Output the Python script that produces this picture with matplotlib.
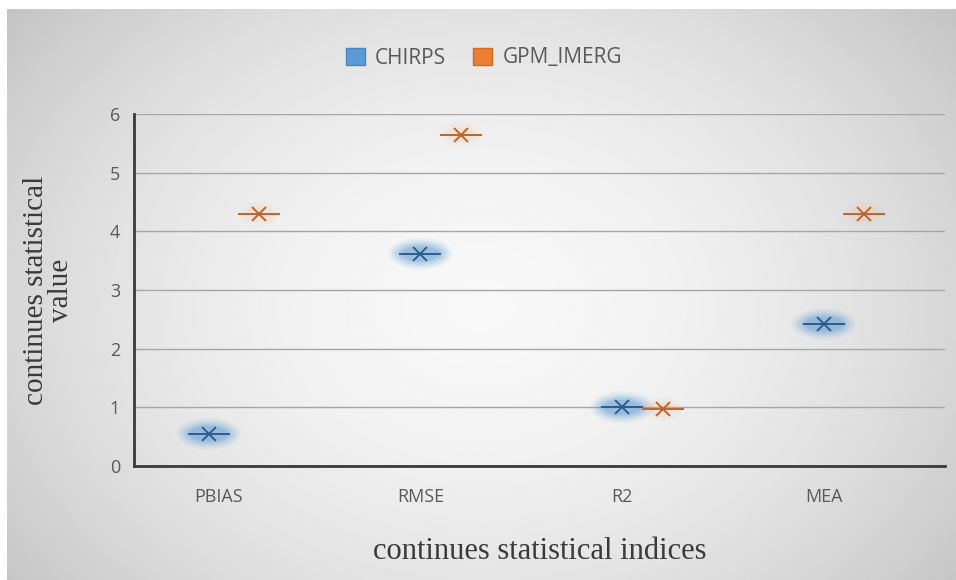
import numpy as np
import matplotlib.pyplot as plt
from matplotlib.patches import Patch, Ellipse

categories = ["PBIAS", "RMSE", "R2", "MEA"]
chirps = [0.55, 3.62, 1.0, 2.42]
gpm_imerg = [4.3, 5.65, 0.97, 4.3]
y_ticks = [0, 1, 2, 3, 4, 5, 6]

fig = plt.figure(figsize=(9.56, 5.8), dpi=100)
fig.patch.set_facecolor("white")

# soft grey radial background behind the whole chart area
bg = fig.add_axes([7 / 956, 0, 949 / 956, 571 / 580], zorder=-5)
yy, xx = np.mgrid[0:1:300j, 0:1:500j]
r = np.sqrt(((xx - 0.5) / 0.62) ** 2 + ((yy - 0.52) / 0.8) ** 2)
shade = 0.97 - 0.19 * np.clip(r, 0, 1.2) ** 1.8
bg.imshow(shade, cmap="gray", vmin=0, vmax=1, aspect="auto",
          extent=[0, 1, 0, 1], interpolation="bilinear")
bg.axis("off")

ax = fig.add_axes([134 / 956, 1 - 466 / 580, 811 / 956, 352 / 580])
ax.patch.set_alpha(0)

# px -> data units along each axis
px_x = 1 / 201.5
px_y = 1 / 58.7

x = np.arange(len(categories))
xc = x - np.array([0.05, 0, 0, 0])
xg = x + 0.2

# blurred halo under the CHIRPS markers
for w, h, a in [(64, 32, 0.08), (58, 27, 0.11), (52, 23, 0.15),
                (45, 19, 0.2), (38, 15, 0.25)]:
    for xi, yi in zip(xc, chirps):
        ax.add_patch(Ellipse((xi, yi), w * px_x, h * px_y,
                             facecolor="#5b9bd5", edgecolor="none", alpha=a))
for w, h, a in [(40, 24, 0.08), (30, 16, 0.12)]:
    for xi, yi in zip(xg, gpm_imerg):
        ax.add_patch(Ellipse((xi, yi), w * px_x, h * px_y,
                             facecolor="#f4b183", edgecolor="none", alpha=a))

for xs, ys, col in [(xc, chirps, "#2f5c8f"), (xg, gpm_imerg, "#c0632a")]:
    ax.plot(xs, ys, linestyle="none", marker="_", markersize=30,
            markeredgewidth=1.4, color=col)
    ax.plot(xs, ys, linestyle="none", marker="x", markersize=10,
            markeredgewidth=1.4, color=col)

ax.set_xlim(-0.42, 3.6)
ax.set_ylim(0, 6)
ax.set_yticks(y_ticks)
ax.set_xticks(x)
ax.set_xticklabels(categories)
ax.yaxis.grid(True, color="#a6a6a6", linewidth=1)
ax.set_axisbelow(True)
for s in ["top", "right"]:
    ax.spines[s].set_visible(False)
ax.spines["left"].set_color("#3a3a3a")
ax.spines["left"].set_linewidth(2)
ax.spines["bottom"].set_color("#3a3a3a")
ax.spines["bottom"].set_linewidth(2)
ax.tick_params(length=0, labelsize=13, labelcolor="#595959", pad=10)
for lab in ax.get_xticklabels() + ax.get_yticklabels():
    lab.set_family("Open Sans")
ax.tick_params(axis="x", pad=16)

ax.set_ylabel("continues statistical\nvalue", family="Liberation Serif",
              fontsize=21, color="#3a3a3a", labelpad=26, linespacing=0.95)
ax.set_xlabel("continues statistical indices", family="Liberation Serif",
              fontsize=22, color="#3a3a3a", labelpad=22)

handles = [Patch(facecolor="#5b9bd5", edgecolor="#4a86c0"),
           Patch(facecolor="#ed7d31", edgecolor="#d06a25")]
leg = fig.legend(handles, ["CHIRPS", "GPM_IMERG"], loc="center",
                 bbox_to_anchor=(484 / 956, 1 - 58 / 580), ncol=2,
                 frameon=False, handlelength=0.9, handleheight=0.9,
                 handletextpad=0.5, columnspacing=1.3,
                 prop={"family": "Open Sans", "size": 15})
for t in leg.get_texts():
    t.set_color("#595959")

fig.savefig("out.png", dpi=100)
